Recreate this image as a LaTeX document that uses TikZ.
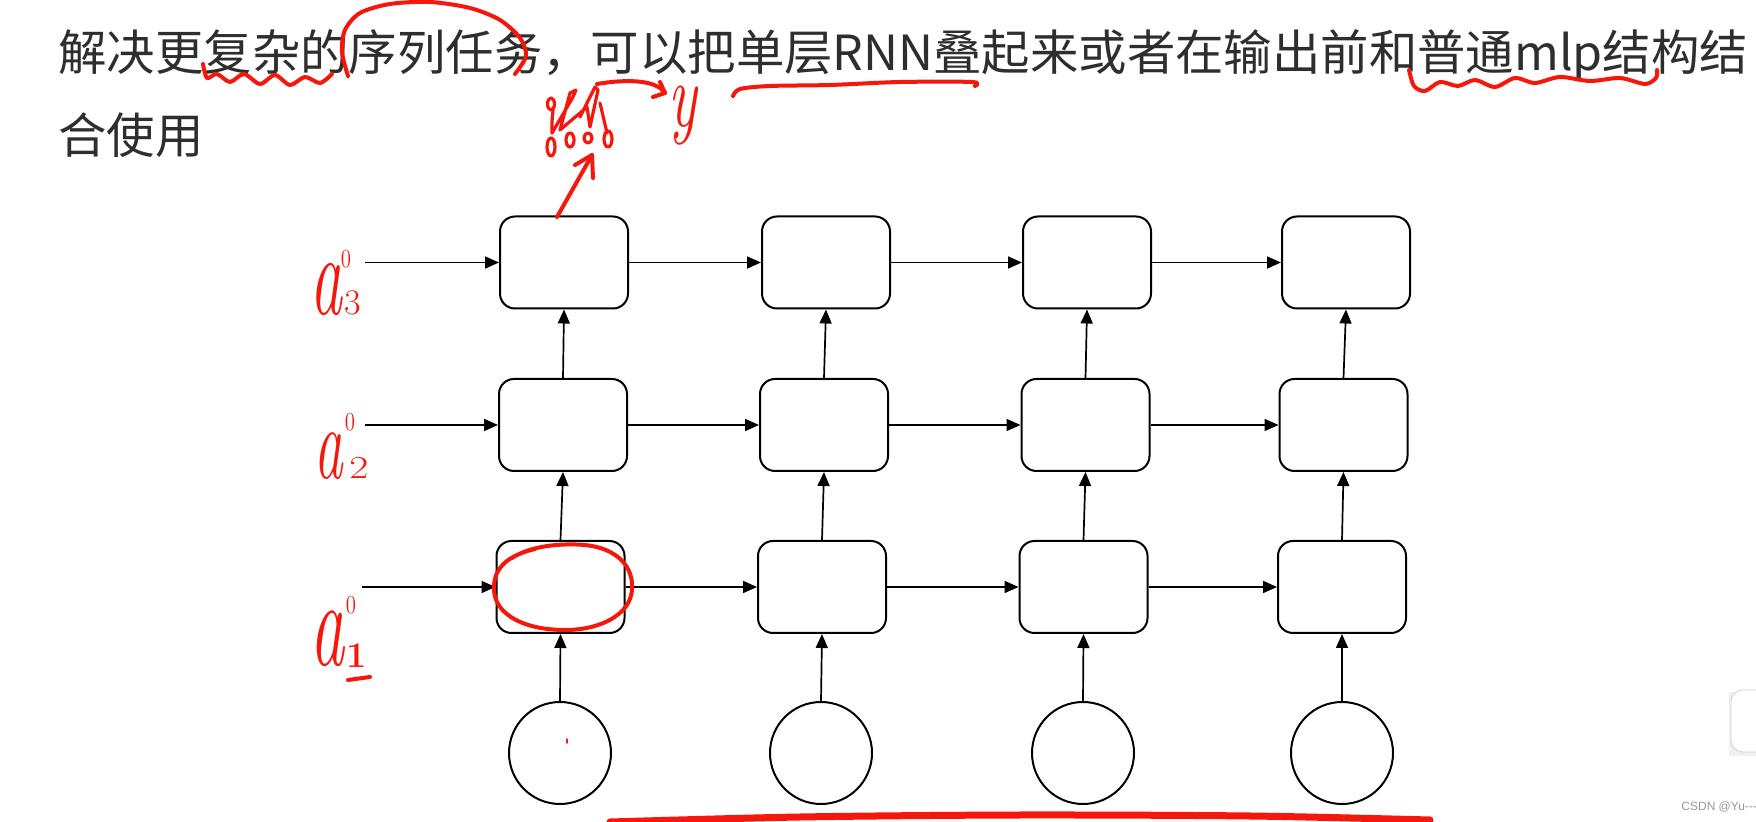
\documentclass[tikz,border=0pt]{standalone}
\usepackage{fontspec}
\newfontfamily\cjk{Noto Sans CJK SC}
\newfontfamily\wm{Liberation Sans}
\usetikzlibrary{arrows.meta}
\definecolor{ink}{HTML}{2E2E2E}
\definecolor{penred}{HTML}{F5170C}
\begin{document}
\begin{tikzpicture}[x=0.5pt,y=-0.5pt,
 cell/.style={draw, line width=1pt, rounded corners=7.5pt, minimum width=64pt, minimum height=46pt, inner sep=0pt},
 inp/.style={draw, circle, line width=1pt, minimum size=51pt, inner sep=0pt},
 arr/.style={line width=0.85pt, -{Triangle[length=7pt,width=6pt]}},
 pen/.style={draw=penred, line width=2pt, line cap=round, line join=round},
 hand/.style={text=penred, inner sep=0pt},
]
\useasboundingbox (0,0) rectangle (1756,822);
\fill[white] (0,0) rectangle (1756,822);

% title text
\node[anchor=base west, inner sep=0pt, text=ink, font=\cjk\fontsize{24.2}{24.2}\selectfont] (t1) at (58,71) {解决更复杂的序列任务，可以把单层RNN叠起来或者在输出前和普通mlp结构结};
\node[anchor=base west, inner sep=0pt, text=ink, font=\cjk\fontsize{24.2}{24.2}\selectfont] (t2) at (58,154) {合使用};

% boxes: layer 3 (top)
\node[cell] (c31) at (564,262.5) {};
\node[cell] (c32) at (826,262.5) {};
\node[cell] (c33) at (1087,262.5) {};
\node[cell] (c34) at (1346,262.5) {};
% layer 2
\node[cell] (c21) at (563,425) {};
\node[cell] (c22) at (824,425) {};
\node[cell] (c23) at (1085.5,425) {};
\node[cell] (c24) at (1343.5,425) {};
% layer 1
\node[cell] (c11) at (560.5,587) {};
\node[cell] (c12) at (822,587) {};
\node[cell] (c13) at (1083.5,587) {};
\node[cell] (c14) at (1342,587) {};
% inputs
\node[inp] (x1) at (560,753) {};
\node[inp] (x2) at (821,753) {};
\node[inp] (x3) at (1083,753) {};
\node[inp] (x4) at (1342,753) {};

% left inputs
\coordinate (i3) at (365,262.5);
\coordinate (i2) at (365,425);
\coordinate (i1) at (362,587);
\draw[arr] (i3) -- (c31.west);
\draw[arr] (i2) -- (c21.west);
\draw[arr] (i1) -- (c11.west);

% horizontal
\foreach \r in {1,2,3}{
  \draw[arr] (c\r1.east) -- (c\r2.west);
  \draw[arr] (c\r2.east) -- (c\r3.west);
  \draw[arr] (c\r3.east) -- (c\r4.west);
}
% vertical
\foreach \c in {1,2,3,4}{
  \draw[arr] (x\c.north) -- (c1\c.south);
  \draw[arr] (c1\c.north) -- (c2\c.south);
  \draw[arr] (c2\c.north) -- (c3\c.south);
}

% handwritten labels
\node[hand, font=\itshape\fontsize{58}{58}\selectfont, xscale=0.55] (a3) at (326,290) {a};
\node[hand, font=\fontsize{13}{13}\selectfont, xscale=0.8] (s3) at (346,259) {0};
\node[hand, font=\fontsize{18}{18}\selectfont] (b3) at (353,303) {3};
\node[hand, font=\itshape\fontsize{52}{52}\selectfont, xscale=0.55] (a2) at (329,456) {a};
\node[hand, font=\fontsize{13}{13}\selectfont, xscale=0.8] (s2) at (350,422) {0};
\node[hand, font=\fontsize{16}{16}\selectfont, xscale=1.3] (b2) at (359,468) {2};
\node[hand, font=\itshape\fontsize{62}{62}\selectfont, xscale=0.55] (a1) at (328,639) {a};
\node[hand, font=\fontsize{13}{13}\selectfont, xscale=0.8] (s1) at (351,605) {0};
\node[hand, font=\bfseries\fontsize{18}{18}\selectfont] (b1) at (357,656) {1};
\draw[pen] (348,680) -- (370,677);
\node[hand, font=\itshape\fontsize{46}{46}\selectfont, xscale=0.65] (yy) at (683,116) {y};

% red ellipse around bottom-left box
\draw[pen] (512,558) .. controls (530,546) and (560,543) .. (585,545)
  .. controls (615,548) and (634,565) .. (632,590)
  .. controls (630,615) and (600,630) .. (565,630)
  .. controls (525,630) and (495,615) .. (494,590)
  .. controls (493,570) and (505,556) .. (535,549);

% annotation arrow from top-left box to scribble
\draw[pen] (557,217) -- (592,155);
\draw[pen] (575,165) -- (592,155) -- (593,178);
% scribble
\draw[pen, line width=1.6pt] (551,104) ellipse (3.5 and 6);
\draw[pen, line width=1.6pt] plot[smooth] coordinates {(553,110) (552,122) (552,133)};
\draw[pen, line width=1.6pt] (552,133) -- (573,97) -- (576,90) -- (570,93) -- (560,130) -- (587,107) -- (590,127) -- (598,90) -- (595,87) -- (580,117);
\draw[pen, line width=1.6pt] (600,103) -- (607,133);
\draw[pen, line width=1.6pt] (551,147) ellipse (4 and 9);
\draw[pen, line width=1.6pt] (570,140) ellipse (4 and 7);
\draw[pen, line width=1.6pt] (588,138) ellipse (4 and 5);
\draw[pen, line width=1.6pt] (608,139) ellipse (4 and 8);
% curved arrow to y
\draw[pen] (597,84) .. controls (620,80) and (655,78) .. (665,93) -- (653,97);
\draw[pen] (660,82) -- (665,93);

% wavy underline and circle in title
\draw[pen] plot[smooth] coordinates {(203,64) (207,78) (217,74) (230,82) (244,74) (260,84) (275,75) (290,85) (305,77) (320,83) (332,74)};
\draw[pen] plot[smooth] coordinates {(348,76) (342,52) (345,30) (360,13) (390,4) (430,2) (470,8) (500,20) (520,38) (526,56) (515,74)};
\draw[pen] plot[smooth] coordinates {(733,96) (740,89) (770,86) (830,85) (900,82) (972,82) (975,86)};
\draw[pen] plot[smooth] coordinates {(1409,70) (1414,86) (1425,91) (1440,82) (1458,86) (1475,80) (1495,87) (1515,78) (1535,83) (1560,77) (1590,81) (1620,78) (1645,84) (1656,78) (1657,70)};

% bottom red line
\draw[penred, line width=3.5pt, line cap=round] plot[smooth] coordinates {(610,822) (800,817) (1020,815) (1250,816) (1430,820)};
% red dot
\fill[penred] (567,741) ellipse (1 and 3);

% UI element at right edge
\fill[gray!12] (1729,692) rectangle (1760,756);
\draw[gray!35, fill=white, rounded corners=6pt] (1731,690) -- (1731,752) -- (1770,752) -- (1770,690) -- cycle;

% watermark
\node[anchor=base west, inner sep=0pt, text=gray!80, font=\wm\fontsize{6}{6}\selectfont] (wm) at (1681,811) {CSDN @Yu---};
\end{tikzpicture}
\end{document}
